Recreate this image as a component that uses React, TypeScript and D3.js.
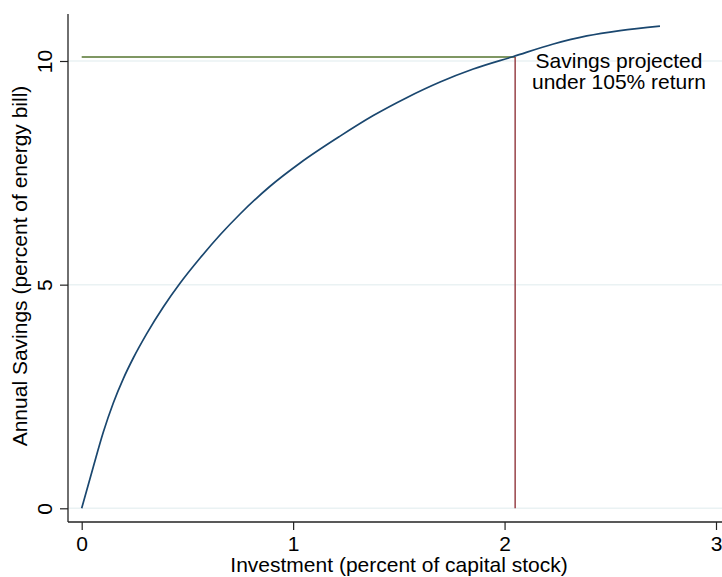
import { useRef, useEffect } from 'react';
import * as d3 from 'd3';

// investment (percent of capital stock) vs annual savings (percent of energy bill)
const investment = [0, 0.055, 0.102, 0.149, 0.197, 0.244, 0.307, 0.386, 0.465, 0.561, 0.656, 0.749, 0.891, 1.033, 1.222, 1.379, 1.537, 1.695, 1.852, 2.042, 2.231, 2.389, 2.546, 2.735];
const savings = [0, 0.93, 1.7, 2.35, 2.9, 3.36, 3.9, 4.5, 5.03, 5.6, 6.12, 6.58, 7.2, 7.72, 8.32, 8.78, 9.18, 9.53, 9.82, 10.1, 10.38, 10.56, 10.68, 10.78];

const xTicks = [0, 1, 2, 3];
const yTicks = [0, 5, 10];

// projected point under 105% return
const projInvestment = 2.05;
const projSavings = 10.09;
const noteLines = ['Savings projected', 'under 105% return'];

const FONT = '"Liberation Sans", Arial, Helvetica, sans-serif';
const FS = '21px';

function drawChart(el: SVGSVGElement) {
  const W = 722, H = 577;
  const plot = { left: 68, right: 722, top: 14, bottom: 522 };

  const svg = d3.select(el);
  svg.selectAll('*').remove();

  const x = d3.scaleLinear().domain([0, 3]).range([81.7, 716]);
  const y = d3.scaleLinear().domain([0, 10]).range([508.3, 61]);

  svg.append('rect').attr('width', W).attr('height', H).attr('fill', '#fff');

  // grid
  svg.append('g')
    .selectAll('line')
    .data(yTicks)
    .enter()
    .append('line')
    .attr('x1', plot.left)
    .attr('x2', plot.right)
    .attr('y1', (d) => y(d))
    .attr('y2', (d) => y(d))
    .attr('stroke', '#eaf2f3')
    .attr('stroke-width', 1.5);

  // reference lines
  svg.append('line')
    .attr('x1', x(0))
    .attr('x2', x(projInvestment))
    .attr('y1', y(projSavings))
    .attr('y2', y(projSavings))
    .attr('stroke', '#55752f')
    .attr('stroke-width', 1.6);

  svg.append('line')
    .attr('x1', x(projInvestment))
    .attr('x2', x(projInvestment))
    .attr('y1', y(projSavings))
    .attr('y2', y(0))
    .attr('stroke', '#90353b')
    .attr('stroke-width', 1.4);

  const pts: [number, number][] = investment.map((v, i) => [v, savings[i]]);
  const line = d3.line<[number, number]>()
    .x((d) => x(d[0]))
    .y((d) => y(d[1]))
    .curve(d3.curveMonotoneX);

  svg.append('path')
    .datum(pts)
    .attr('d', line)
    .attr('fill', 'none')
    .attr('stroke', '#1a476f')
    .attr('stroke-width', 1.7);

  // axes
  const xAxis = svg.append('g')
    .attr('transform', `translate(0,${plot.bottom})`)
    .call(d3.axisBottom(x).tickValues(xTicks).tickFormat(d3.format('d')).tickSize(8).tickPadding(6));
  xAxis.select('.domain').remove();
  xAxis.selectAll('line').attr('stroke', '#222').attr('stroke-width', 1.2);
  xAxis.selectAll('text')
    .attr('fill', '#000')
    .style('font-family', FONT)
    .style('font-size', FS);

  const yAxis = svg.append('g')
    .attr('transform', `translate(${plot.left},0)`)
    .call(d3.axisLeft(y).tickValues(yTicks).tickFormat(d3.format('d')).tickSize(8));
  yAxis.select('.domain').remove();
  yAxis.selectAll('line').attr('stroke', '#222').attr('stroke-width', 1.2);
  yAxis.selectAll('text')
    .attr('fill', '#000')
    .attr('x', null)
    .attr('dy', null)
    .attr('text-anchor', 'middle')
    .attr('transform', 'translate(-16,0) rotate(-90)')
    .style('font-family', FONT)
    .style('font-size', FS);

  svg.append('line')
    .attr('x1', plot.left).attr('x2', plot.right)
    .attr('y1', plot.bottom).attr('y2', plot.bottom)
    .attr('stroke', '#222').attr('stroke-width', 1.3);
  svg.append('line')
    .attr('x1', plot.left).attr('x2', plot.left)
    .attr('y1', plot.top).attr('y2', plot.bottom)
    .attr('stroke', '#222').attr('stroke-width', 1.3);

  // titles
  svg.append('text')
    .attr('x', 399)
    .attr('y', 572)
    .attr('text-anchor', 'middle')
    .style('font-family', FONT)
    .style('font-size', FS)
    .text('Investment (percent of capital stock)');

  svg.append('text')
    .attr('transform', `translate(27,266) rotate(-90)`)
    .attr('text-anchor', 'middle')
    .style('font-family', FONT)
    .style('font-size', FS)
    .text('Annual Savings (percent of energy bill)');

  // annotation
  svg.append('text')
    .attr('x', 619)
    .attr('y', 67.5)
    .attr('text-anchor', 'middle')
    .style('font-family', FONT)
    .style('font-size', FS)
    .selectAll('tspan')
    .data(noteLines)
    .enter()
    .append('tspan')
    .attr('x', 619)
    .attr('dy', (_, i) => (i === 0 ? 0 : 21.5))
    .text((d) => d);
}

export default function App() {
  const ref = useRef<SVGSVGElement>(null);

  useEffect(() => {
    if (!ref.current) return;
    drawChart(ref.current);
  }, []);

  return (
    <svg
      ref={ref}
      width={722}
      height={577}
      style={{ position: 'absolute', left: 0, top: 0, display: 'block' }}
    />
  );
}
